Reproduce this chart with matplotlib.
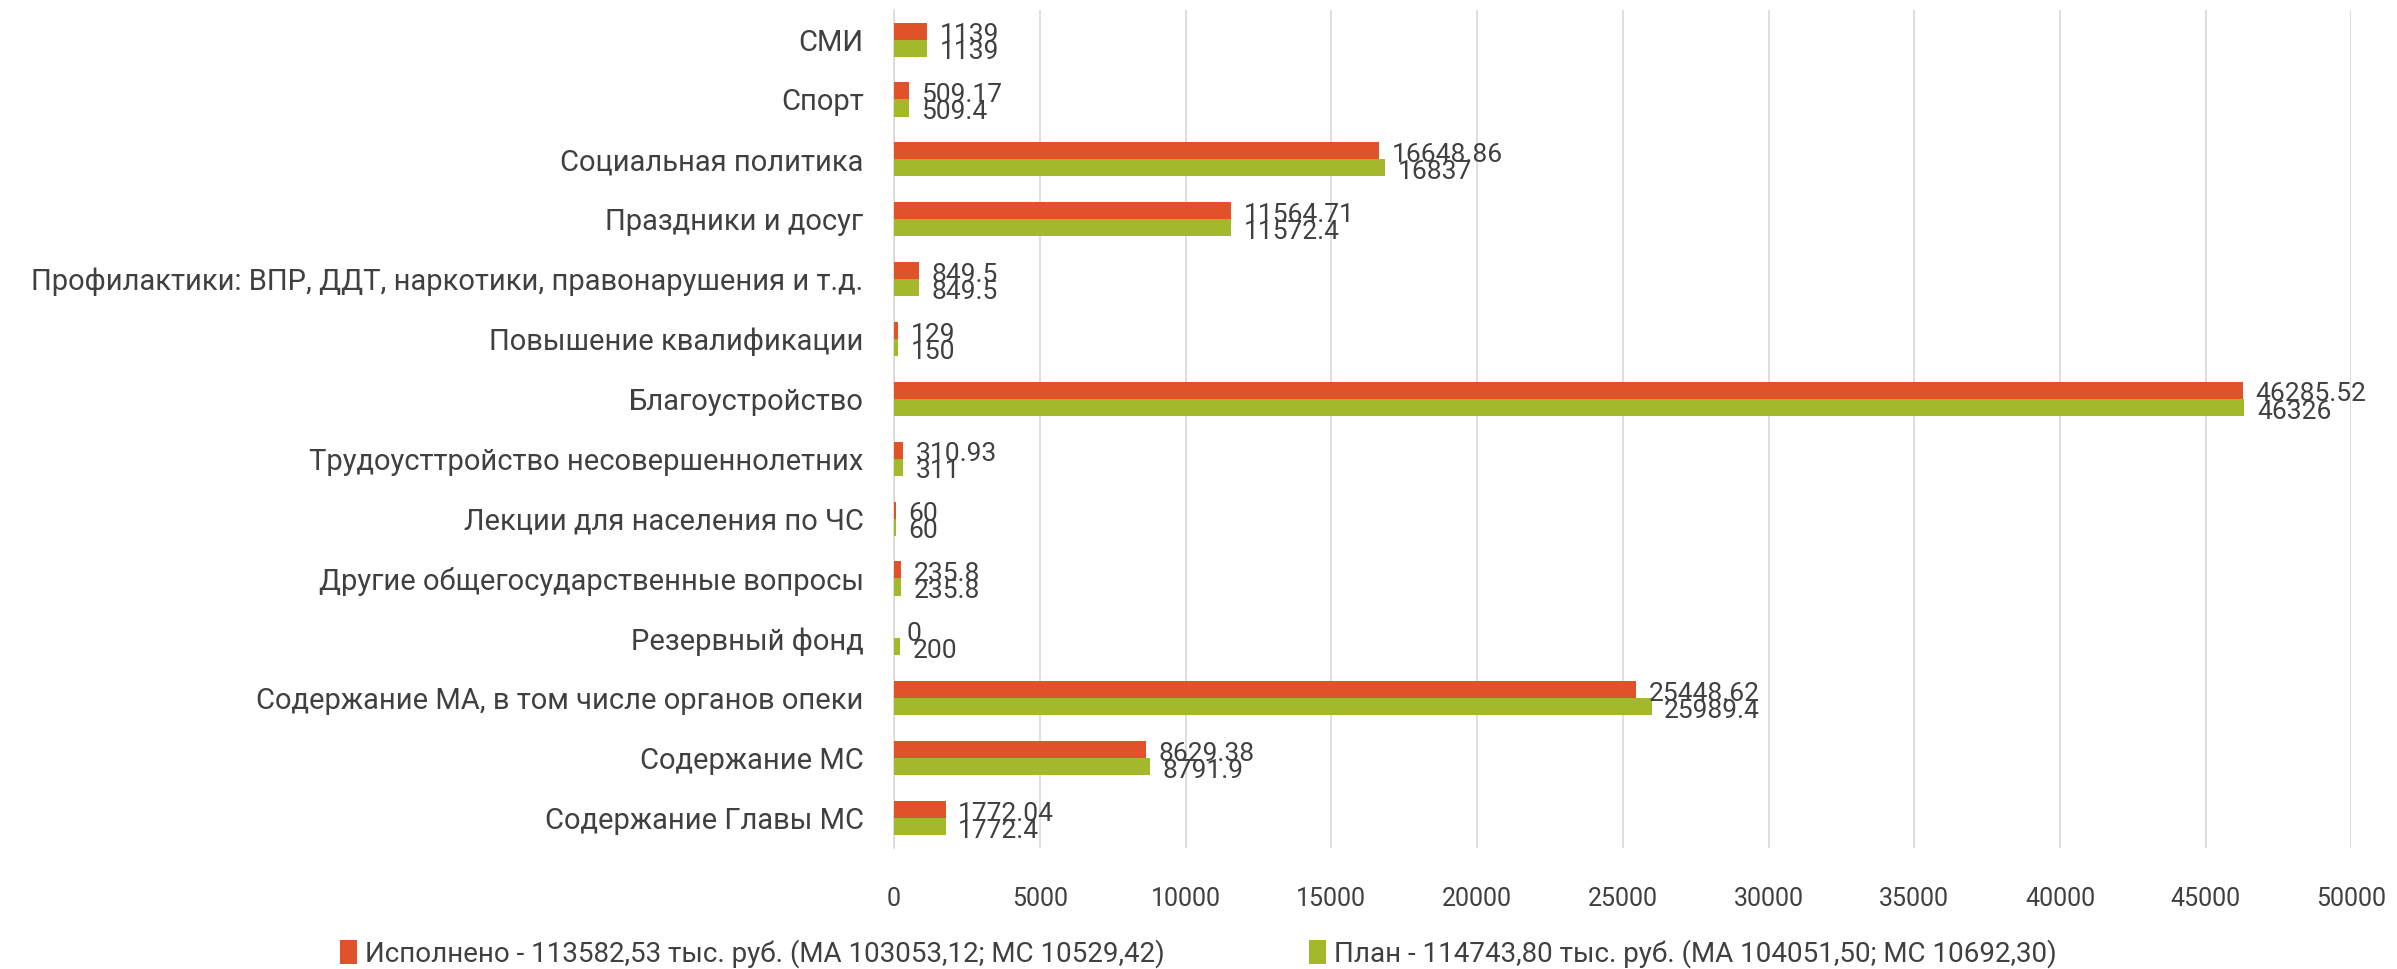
import matplotlib
matplotlib.use("Agg")
import matplotlib.pyplot as plt
import numpy as np

# categories listed bottom -> top, as on the chart
categories = [
    "Содержание Главы МС",
    "Содержание МС",
    "Содержание МА, в том числе органов опеки",
    "Резервный фонд",
    "Другие общегосударственные вопросы",
    "Лекции для населения по ЧС",
    "Трудоусттройство несовершеннолетних",
    "Благоустройство",
    "Повышение квалификации",
    "Профилактики: ВПР, ДДТ, наркотики, правонарушения и т.д.",
    "Праздники и досуг",
    "Социальная политика",
    "Спорт",
    "СМИ",
]
done = [1772.04, 8629.38, 25448.62, 0, 235.8, 60, 310.93, 46285.52, 129, 849.5,
        11564.71, 16648.86, 509.17, 1139]
plan = [1772.4, 8791.9, 25989.4, 200, 235.8, 60, 311, 46326, 150, 849.5,
        11572.4, 16837, 509.4, 1139]
done_label = "Исполнено - 113582,53 тыс. руб. (МА 103053,12; МС 10529,42)"
plan_label = "План - 114743,80 тыс. руб. (МА 104051,50; МС 10692,30)"

plt.rcParams['font.family'] = ['Roboto', 'DejaVu Sans']
text_col = "#404040"
red = "#E0532A"
green = "#A5B82B"


def fmt(v):
    s = f"{v:.2f}".rstrip("0").rstrip(".")
    return s


fig = plt.figure(figsize=(23.97, 9.69), dpi=100)
ax = fig.add_axes([0.373, 0.125, 0.608, 0.865])

y = np.arange(len(categories))
h = 0.285
ax.barh(y + h / 2, done, height=h, color=red, label=done_label, zorder=3)
ax.barh(y - h / 2, plan, height=h, color=green, label=plan_label, zorder=3)

for yi, d, p in zip(y, done, plan):
    ax.annotate(fmt(d), (d, yi + h / 2), xytext=(9, -3), textcoords="offset points",
                va="center", ha="left", fontsize=19, color=text_col)
    ax.annotate(fmt(p), (p, yi - h / 2), xytext=(9, -3), textcoords="offset points",
                va="center", ha="left", fontsize=19, color=text_col)

ax.set_xlim(0, 50000)
ax.set_ylim(-0.5, len(categories) - 0.5)
ax.set_xticks(np.arange(0, 50001, 5000))
ax.set_yticks(y)
ax.set_yticklabels(categories, fontsize=21)
ax.tick_params(axis="both", length=0, colors=text_col)
ax.tick_params(axis="x", pad=28, labelsize=18)
ax.tick_params(axis="y", pad=22)
ax.grid(axis="x", color="#D9D9D9", linewidth=1.2, zorder=0)
for s in ["top", "right", "bottom"]:
    ax.spines[s].set_visible(False)
ax.spines["left"].set_color("#D9D9D9")
ax.spines["left"].set_linewidth(1.2)

fig.legend(loc="center", bbox_to_anchor=(0.5, 0.016), ncol=2, frameon=False,
           fontsize=20, labelcolor=text_col, handlelength=0.6, handleheight=1.0,
           handletextpad=0.3, columnspacing=5.2)

fig.savefig("out.png", dpi=100)
